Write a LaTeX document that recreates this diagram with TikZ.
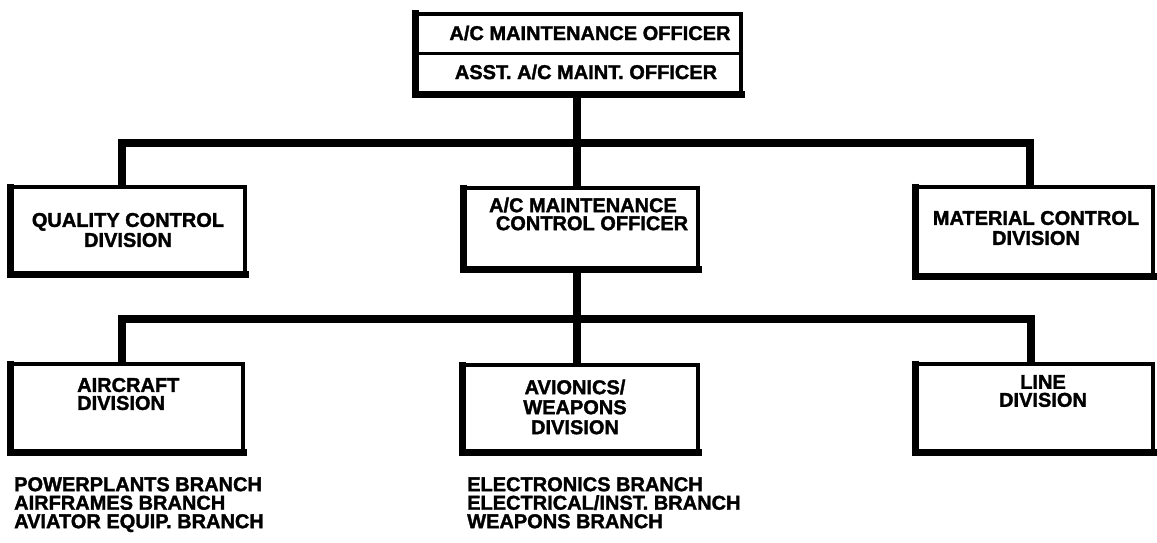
\documentclass[tikz,border=0pt]{standalone}
\usepackage{fontspec}
\setmainfont{Liberation Sans}[BoldFeatures={FakeBold=1.6}]
\begin{document}
\begin{tikzpicture}[x=1pt,y=-1pt,
  orgbox/.style={draw, line width=3.5pt, inner sep=0pt, line join=miter},
  heavy/.style={line width=7pt, line join=miter, line cap=butt},
  conn/.style={line width=7.5pt, line join=miter, line cap=butt},
  lbl/.style={font=\fontsize{20}{20}\selectfont\bfseries, inner sep=0pt, align=center},
  lst/.style={font=\fontsize{20}{18.5}\selectfont\bfseries, inner sep=0pt, align=left, anchor=north west}]
\useasboundingbox (0,0) rectangle (1157,543);

% boxes
\node[orgbox, minimum width=324pt, minimum height=79pt] (top) at (579,53.5) {};
\node[orgbox, minimum width=233pt, minimum height=86pt] (qc) at (128.5,230) {};
\node[orgbox, minimum width=233pt, minimum height=80pt] (mco) at (581.5,228) {};
\node[orgbox, minimum width=236pt, minimum height=88pt] (mat) at (1035,231) {};
\node[orgbox, minimum width=231pt, minimum height=87pt] (acd) at (127.5,407.5) {};
\node[orgbox, minimum width=234pt, minimum height=86pt] (avd) at (581,408) {};
\node[orgbox, minimum width=236pt, minimum height=87pt] (lnd) at (1035,407.5) {};

% heavy left and bottom edges
\foreach \n in {top,qc,mco,mat,acd,avd,lnd}{
  \draw[heavy] ([yshift=1.75pt]\n.north west) -- (\n.south west) -- ([xshift=1.75pt]\n.south east);
}
\draw[line width=3.5pt] (top.west) -- (top.east);

% texts
\node[lbl] (t1) at (590,33) {A/C MAINTENANCE OFFICER};
\node[lbl] (t2) at (586,72) {ASST. A/C MAINT. OFFICER};
\node[lbl] (qct) at (128,230) {QUALITY CONTROL\\DIVISION};
\node[lbl, font=\fontsize{20}{18}\selectfont\bfseries] (mcot) at (583,214) {A/C MAINTENANCE\\\hspace*{18pt}CONTROL OFFICER};
\node[lbl] (matt) at (1036,228) {MATERIAL CONTROL\\DIVISION};
\node[lbl, align=left, font=\fontsize{20}{18}\selectfont\bfseries, anchor=west] (acdt) at (77,394) {AIRCRAFT\\DIVISION};
\node[lbl] (avdt) at (575,407) {AVIONICS/\\WEAPONS\\DIVISION};
\node[lbl, font=\fontsize{20}{18}\selectfont\bfseries] (lndt) at (1043,391) {LINE\\DIVISION};

\node[lst] (acl) at (14,477) {POWERPLANTS BRANCH\\AIRFRAMES BRANCH\\AVIATOR EQUIP. BRANCH};
\node[lst] (avl) at (467,477) {ELECTRONICS BRANCH\\ELECTRICAL/INST. BRANCH\\WEAPONS BRANCH};

% connectors
\coordinate (b1l) at (122,143);
\coordinate (b1r) at (1030,143);
\coordinate (b2l) at (122,319);
\coordinate (b2r) at (1031,319);
\draw[conn] (qc.north -| b1l) -- (b1l) -- (b1r) -- (mat.north -| b1r);
\draw[conn] (top.south -| 577,0) -- (mco.north -| 577,0);
\draw[conn] (acd.north -| b2l) -- (b2l) -- (b2r) -- (lnd.north -| b2r);
\draw[conn] (mco.south -| 577,0) -- (avd.north -| 577,0);
\end{tikzpicture}
\end{document}
